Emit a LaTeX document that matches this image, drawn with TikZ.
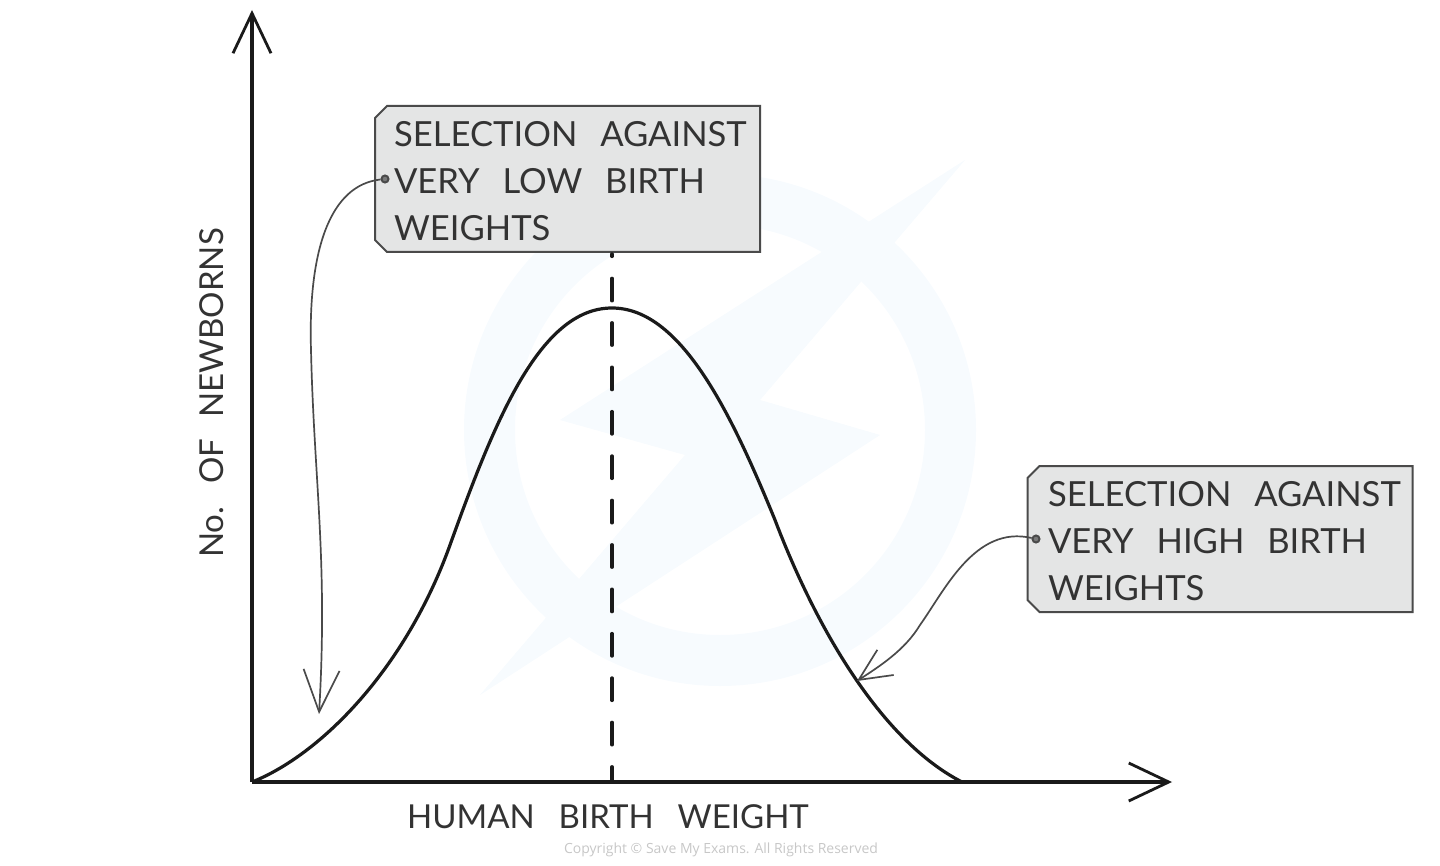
\documentclass[tikz,border=0pt]{standalone}
\usepackage{fontspec}
\setmainfont{Lato}
\newfontfamily\copyfont{Open Sans}
\usetikzlibrary{arrows.meta,shapes.misc}
\definecolor{boxfill}{HTML}{E4E5E5}
\definecolor{boxline}{HTML}{4A4A4A}
\definecolor{inkc}{HTML}{1A1A1A}
\definecolor{textc}{HTML}{333333}
\definecolor{wm}{HTML}{F7FBFE}
\tikzset{
  axisline/.style={line width=1.6pt,draw=inkc,-{Straight Barb[length=20pt,width=19pt,line width=1.4pt]},shorten >=-2pt},
  curveline/.style={line width=1.6pt,draw=inkc},
  meanline/.style={line width=1.7pt,draw=inkc,line cap=round,dash pattern=on 11.2pt off 11pt,dash phase=10pt},
  thinarrow/.style={line width=0.85pt,draw=boxline},
  notebox/.style={chamfered rectangle,chamfered rectangle corners={north west,south west},
    chamfered rectangle xsep=3pt,chamfered rectangle ysep=3pt,
    draw=boxline,fill=boxfill,line width=1pt,minimum width=192.5pt,minimum height=73pt,
    inner sep=0pt,text width=186.5pt,align=left,font=\fontsize{17.3}{23.5}\selectfont,text=textc},
  label/.style={font=\fontsize{16.5}{20}\selectfont,text=textc,inner sep=0pt},
  pin/.style={circle,draw=boxline,line width=1pt,fill=boxline!70!boxfill,minimum size=3.5pt,inner sep=0pt}
}
\begin{document}
\begin{tikzpicture}[x=0.5pt,y=-0.5pt]
\useasboundingbox (0,0) rectangle (1440,866);
% watermark
\fill[wm,even odd rule] (720,430) circle (256) (720,430) circle (205);
\fill[white] (965,160) -- (760,400) -- (880,435) -- (480,695) -- (685,455) -- (560,420) -- cycle;
\fill[wm] (965,160) -- (760,400) -- (880,435) -- (480,695) -- (685,455) -- (560,420) -- cycle;
% boxes
\node[notebox] (low) at (567.5,179) {\spaceskip=.66em\relax\rule{0pt}{14.5pt}%
  \hspace*{6.5pt}SELECTION AGAINST\\\hspace*{6.5pt}VERY LOW BIRTH\\\hspace*{6.5pt}WEIGHTS};
\node[notebox] (high) at (1220,539) {\spaceskip=.66em\relax\rule{0pt}{14.5pt}%
  \hspace*{7.25pt}SELECTION AGAINST\\\hspace*{7.25pt}VERY HIGH BIRTH\\\hspace*{7.25pt}WEIGHTS};
% dashed mean
\coordinate (meantop) at (612,254);
\coordinate (meanbot) at (612,782);
\draw[meanline] (meantop) -- (meanbot);
% axes
\coordinate (origin) at (252,782);
\coordinate (ytip) at (252,14);
\coordinate (xtip) at (1168,782);
\draw[axisline] (origin) -- (ytip);
\draw[axisline] (origin) -- (xtip);
% curve
\draw[curveline] (origin) .. controls (320,755) and (405,670) .. (450,545)
  .. controls (495,420) and (540,308) .. (612,308)
  .. controls (680,308) and (730,410) .. (775,520)
  .. controls (815,625) and (880,740) .. (962,782);
% labels
\node[label,rotate=90] (ylab) at (212,393) {\spaceskip=.62em\relax No. OF NEWBORNS};
\node[label] (xlab) at (608,817) {\spaceskip=.72em\relax HUMAN BIRTH WEIGHT};
\node[font=\copyfont\fontsize{7}{8}\selectfont,text=black!22,inner sep=0pt] (copy) at (721,850) {Copyright © Save My Exams. All Rights Reserved};
% connectors
\node[pin] (p1) at (385,179) {};
\node[pin] (p2) at (1036,539) {};
\coordinate (a1) at (319,714);
\coordinate (a2) at (857,681);
\draw[thinarrow,-{Straight Barb[length=21pt,width=18pt,line width=0.85pt]}] (p1) .. controls (330,185) and (308,250) .. (311,350) .. controls (314,480) and (328,560) .. (a1);
\draw[thinarrow,-{Straight Barb[length=16pt,width=15pt,line width=0.85pt]}] (p2) .. controls (975,525) and (945,590) .. (920,625) .. controls (905,650) and (880,666) .. (a2);
\end{tikzpicture}
\end{document}
